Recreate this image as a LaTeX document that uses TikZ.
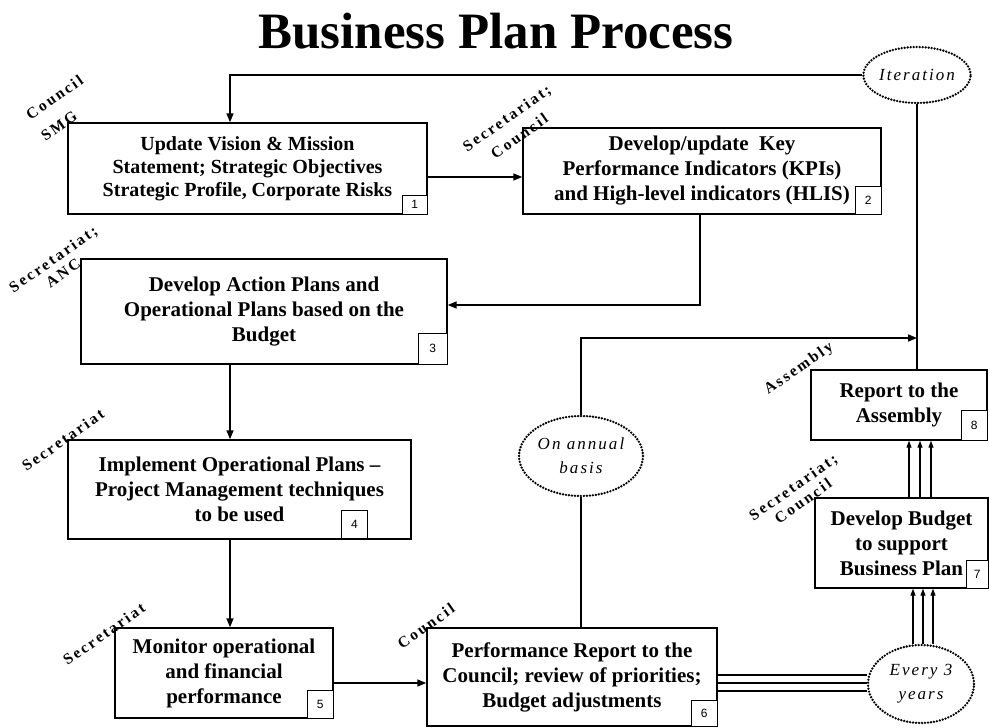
\documentclass[tikz,border=0pt]{standalone}
\usepackage{fontspec}
\setmainfont{Liberation Serif}
\setsansfont{Liberation Sans}
\newfontfamily\lblfont[LetterSpace=15]{Liberation Serif}
\newfontfamily\elfont[LetterSpace=12]{Liberation Serif}
\usetikzlibrary{shapes.geometric,arrows.meta}
\begin{document}
\begin{tikzpicture}[x=1pt,y=-1pt,
 box/.style={draw, line width=1.4pt, rectangle, align=center, inner sep=0pt, font=\bfseries\fontsize{21}{25}\selectfont},
 numbox/.style={draw, line width=1.2pt, fill=white, inner sep=0pt, anchor=south east, font=\sffamily\fontsize{12}{12}\selectfont},
 oval/.style={ellipse, draw, line width=2.6pt, dash pattern=on 0pt off 3pt, line cap=round, inner sep=0pt, align=center, font=\elfont\itshape\fontsize{17}{24}\selectfont},
 lbl/.style={rotate=35, inner sep=0pt, align=center, font=\lblfont\bfseries\fontsize{15.5}{17}\selectfont},
 conn/.style={line width=1.5pt},
 arr/.style={conn, -{Triangle[length=9pt,width=7pt]}},
 arr3/.style={line width=1.2pt, -{Triangle[length=7pt,width=5pt]}},
 tline/.style={line width=1.2pt}]
\fill[white] (0,0) rectangle (989,728);
\useasboundingbox (0,0) rectangle (989,728);

\node[font=\bfseries\fontsize{51}{60}\selectfont, anchor=base] (title) at (496,48) {Business Plan Process};

% boxes
\node[box, font=\bfseries\fontsize{20}{23}\selectfont, minimum width=359pt, minimum height=91pt] (b1) at (247.5,168.5) {Update Vision \& Mission\\Statement; Strategic Objectives\\Strategic Profile, Corporate Risks};
\node[numbox, minimum width=25pt, minimum height=19pt] (n1) at (b1.south east) {1};

\node[box, minimum width=358pt, minimum height=86pt] (b2) at (702,171) {Develop/update\ \ Key\\Performance Indicators (KPIs)\\and High-level indicators (HLIS)};
\node[numbox, minimum width=26pt, minimum height=28pt] (n2) at (b2.south east) {2};

\node[box, minimum width=366pt, minimum height=105pt] (b3) at (264,311.5) {Develop Action Plans and\\Operational Plans based on the\\Budget};
\node[numbox, minimum width=29pt, minimum height=31pt] (n3) at (b3.south east) {3};

\node[box, minimum width=343pt, minimum height=99pt] (b4) at (239.5,489.5) {Implement Operational Plans --\\Project Management techniques\\to be used};
\coordinate (n4c) at (368,539);
\node[numbox, minimum width=26pt, minimum height=28pt] (n4) at (n4c) {4};

\node[box, minimum width=218pt, minimum height=90pt] (b5) at (224,673) {Monitor operational\\and financial\\performance};
\node[numbox, minimum width=26pt, minimum height=28pt] (n5) at (b5.south east) {5};

\node[box, minimum width=290pt, minimum height=98pt] (b6) at (572,677) {Performance Report to the\\Council; review of priorities;\\Budget adjustments};
\node[numbox, minimum width=26pt, minimum height=26pt] (n6) at (b6.south east) {6};

\node[box, minimum width=173pt, minimum height=90pt] (b7) at (901.5,543) {Develop Budget\\to support\\Business Plan};
\node[numbox, minimum width=22pt, minimum height=28pt] (n7) at (b7.south east) {7};

\node[box, minimum width=176pt, minimum height=70pt] (b8) at (899,405) {Report to the\\Assembly};
\node[numbox, minimum width=26pt, minimum height=30pt] (n8) at (b8.south east) {8};

% ellipses
\node[oval, minimum width=98pt, minimum height=56pt] (it) at (917,75) {Iteration};
\node[oval, minimum width=124pt, minimum height=80pt] (an) at (581,456) {On annual\\basis};
\node[oval, minimum width=106pt, minimum height=78pt] (ev) at (921,684) {Every 3\\years};

% connectors
\coordinate (topy) at (230,75);
\draw[arr] (it.west) -- (topy) -- (b1.north -| topy);
\coordinate (y12) at (0,177);
\draw[arr] (b1.east |- y12) -- (b2.west |- y12);
\coordinate (y23) at (700,305);
\draw[arr] (b2.south -| y23) -- (y23) -- (b3.east |- y23);
\coordinate (vx) at (230,0);
\draw[arr] (b3.south -| vx) -- (b4.north -| vx);
\draw[arr] (b4.south -| vx) -- (b5.north -| vx);
\coordinate (y56) at (0,683);
\draw[arr] (b5.east |- y56) -- (b6.west |- y56);
\draw[conn] (an.south) -- (an.south |- b6.north);
\coordinate (jn) at (it.south |- 0,338);
\draw[arr] (an.north) |- (jn);
\draw[conn] (it.south) -- (it.south |- b8.north);
\foreach \x in {909,920,931} \draw[arr3] (b7.north -| \x,0) -- (b8.south -| \x,0);
\foreach \x in {913,923,933} \draw[arr3] (ev.north -| \x,0) -- (b7.south -| \x,0);
\foreach \y in {675,683,691} \draw[tline] (b6.east |- 0,\y) -- (ev.west |- 0,\y);

% role labels
\node[lbl, align=left] (l1) at (62,108) {Council\\[9pt]SMG};
\node[lbl] (l2) at (513,127) {Secretariat;\\[5pt]Council};
\node[lbl] (l3) at (58,266) {Secretariat;\\ANC};
\node[lbl] (l4) at (63,440) {Secretariat};
\node[lbl] (l5) at (104,634) {Secretariat};
\node[lbl] (l6) at (426,626) {Council};
\node[lbl] (l7) at (798,494) {Secretariat;\\Council};
\node[lbl] (l8) at (799,369) {Assembly};
\end{tikzpicture}
\end{document}
